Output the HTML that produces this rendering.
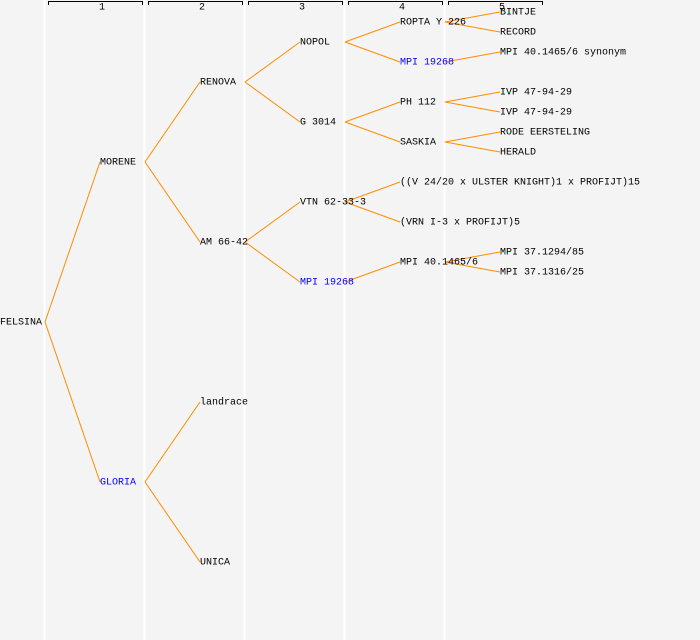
<!DOCTYPE html>
<html><head><style>
html,body{margin:0;padding:0;background:#f4f4f4;}
svg{display:block;}
text{font-family:"Liberation Mono",monospace;font-size:10px;dominant-baseline:middle;}
</style></head><body>
<svg width="700" height="640" xmlns="http://www.w3.org/2000/svg">
<rect width="700" height="640" fill="#f4f4f4"/>
<g stroke="#ffffff" stroke-width="2">
<line x1="44.5" y1="0" x2="44.5" y2="640"/>
<line x1="144.5" y1="0" x2="144.5" y2="640"/>
<line x1="244.5" y1="0" x2="244.5" y2="640"/>
<line x1="344.5" y1="0" x2="344.5" y2="640"/>
<line x1="444.5" y1="0" x2="444.5" y2="640"/>
</g>
<g stroke="#000" stroke-width="1" fill="none">
<path d="M48.5 5V1.5H142.5V5"/>
<path d="M148.5 5V1.5H242.5V5"/>
<path d="M248.5 5V1.5H342.5V5"/>
<path d="M348.5 5V1.5H442.5V5"/>
<path d="M448.5 5V1.5H542.5V5"/>
</g>
<g font-size="8" style="font-size:8px" text-anchor="middle">
<text x="102" y="7">1</text><text x="202" y="7">2</text><text x="302" y="7">3</text><text x="402" y="7">4</text><text x="502" y="7">5</text>
</g>
<g stroke="#ff8c00" stroke-width="1" fill="none">
<line x1="45" y1="322" x2="100" y2="162"/>
<line x1="45" y1="322" x2="100" y2="482"/>
<line x1="145" y1="162" x2="200" y2="82"/>
<line x1="145" y1="162" x2="200" y2="242"/>
<line x1="145" y1="482" x2="200" y2="402"/>
<line x1="145" y1="482" x2="200" y2="562"/>
<line x1="245" y1="82" x2="300" y2="42"/>
<line x1="245" y1="82" x2="300" y2="122"/>
<line x1="245" y1="242" x2="300" y2="202"/>
<line x1="245" y1="242" x2="300" y2="282"/>
<line x1="345" y1="42" x2="400" y2="22"/>
<line x1="345" y1="42" x2="400" y2="62"/>
<line x1="345" y1="122" x2="400" y2="102"/>
<line x1="345" y1="122" x2="400" y2="142"/>
<line x1="345" y1="202" x2="400" y2="182"/>
<line x1="345" y1="202" x2="400" y2="222"/>
<line x1="345" y1="282" x2="400" y2="262"/>
<line x1="445" y1="22" x2="500" y2="12"/>
<line x1="445" y1="22" x2="500" y2="32"/>
<line x1="445" y1="62" x2="500" y2="52"/>
<line x1="445" y1="102" x2="500" y2="92"/>
<line x1="445" y1="102" x2="500" y2="112"/>
<line x1="445" y1="142" x2="500" y2="132"/>
<line x1="445" y1="142" x2="500" y2="152"/>
<line x1="445" y1="262" x2="500" y2="252"/>
<line x1="445" y1="262" x2="500" y2="272"/>
</g>
<g fill="#000">
<text x="0" y="322">FELSINA</text>
<text x="100" y="162">MORENE</text>
<text x="100" y="482" fill="#0000ff">GLORIA</text>
<text x="200" y="82">RENOVA</text>
<text x="200" y="242">AM 66-42</text>
<text x="200" y="402">landrace</text>
<text x="200" y="562">UNICA</text>
<text x="300" y="42">NOPOL</text>
<text x="300" y="122">G 3014</text>
<text x="300" y="202">VTN 62-33-3</text>
<text x="300" y="282" fill="#0000ff">MPI 19268</text>
<text x="400" y="22">ROPTA Y 226</text>
<text x="400" y="62" fill="#0000ff">MPI 19268</text>
<text x="400" y="102">PH 112</text>
<text x="400" y="142">SASKIA</text>
<text x="400" y="182">((V 24/20 x ULSTER KNIGHT)1 x PROFIJT)15</text>
<text x="400" y="222">(VRN I-3 x PROFIJT)5</text>
<text x="400" y="262">MPI 40.1465/6</text>
<text x="500" y="12">BINTJE</text>
<text x="500" y="32">RECORD</text>
<text x="500" y="52">MPI 40.1465/6 synonym</text>
<text x="500" y="92">IVP 47-94-29</text>
<text x="500" y="112">IVP 47-94-29</text>
<text x="500" y="132">RODE EERSTELING</text>
<text x="500" y="152">HERALD</text>
<text x="500" y="252">MPI 37.1294/85</text>
<text x="500" y="272">MPI 37.1316/25</text>
</g>
</svg>
</body></html>
